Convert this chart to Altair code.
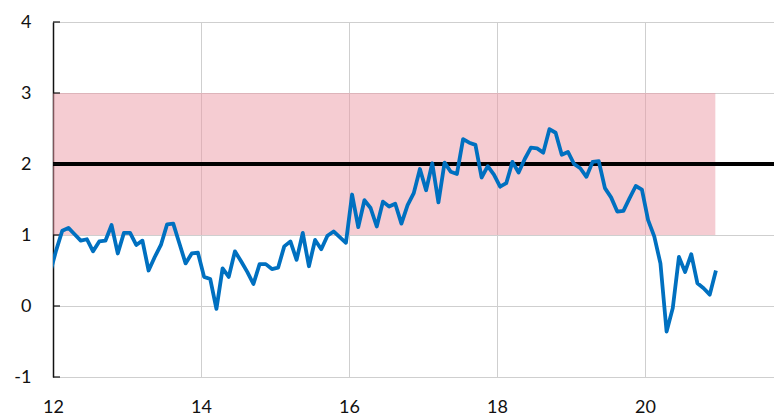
import altair as alt
import pandas as pd

# Monthly values, Dec 2011 .. Dec 2020 (month index -1 .. 107 from Jan 2012)
first_month_index = -1
inflation = [
    0.46,
    0.78, 1.06, 1.10, 1.01, 0.92, 0.94, 0.77, 0.91, 0.92, 1.14, 0.74, 1.03,
    1.03, 0.86, 0.92, 0.50, 0.69, 0.86, 1.15, 1.16, 0.88, 0.60, 0.74, 0.75,
    0.41, 0.38, -0.04, 0.53, 0.41, 0.77, 0.63, 0.48, 0.31, 0.59, 0.59, 0.52,
    0.54, 0.84, 0.91, 0.65, 1.03, 0.56, 0.93, 0.80, 0.99, 1.05, 0.97, 0.89,
    1.57, 1.11, 1.49, 1.38, 1.12, 1.47, 1.40, 1.44, 1.16, 1.42, 1.59, 1.93,
    1.63, 2.01, 1.46, 2.02, 1.89, 1.86, 2.35, 2.30, 2.27, 1.81, 1.97, 1.85,
    1.68, 1.73, 2.03, 1.88, 2.07, 2.23, 2.22, 2.16, 2.49, 2.44, 2.13, 2.17,
    2.00, 1.94, 1.82, 2.03, 2.04, 1.66, 1.53, 1.33, 1.34, 1.52, 1.69, 1.64,
    1.21, 0.98, 0.60, -0.36, -0.03, 0.69, 0.48, 0.73, 0.32, 0.25, 0.16, 0.50,
]
x_ticks = [12, 14, 16, 18, 20]
y_ticks = [-1, 0, 1, 2, 3, 4]
x_domain = [12, 21.743]
y_domain = [-1, 4]
band_x = [12, 20.95]
band_y = [1, 3]
target = [2]

years = [12 + (first_month_index + k + 0.5) / 12 for k in range(len(inflation))]
line_df = pd.DataFrame({"x": years, "y": inflation})
band_df = pd.DataFrame({"x1": [band_x[0]], "x2": [band_x[1]], "y1": [band_y[0]], "y2": [band_y[1]]})
target_df = pd.DataFrame({"y": target})
ticks_df = pd.DataFrame({"y": y_ticks})

FONT = "Lato"
xscale = alt.Scale(domain=x_domain, nice=False, zero=False)
yscale = alt.Scale(domain=y_domain, nice=False, zero=False)

xaxis = alt.Axis(values=x_ticks, format="d", grid=True, gridColor="#cfcfcf", gridWidth=1,
                 domain=False, ticks=False, labelPadding=21, labelFontSize=18,
                 labelFlush=False, labelOverlap=False,
                 labelFont=FONT, labelColor="#111111", title=None)
yaxis = alt.Axis(values=y_ticks, format="d", grid=True, gridColor="#cfcfcf", gridWidth=1,
                 domain=True, domainColor="#111111", domainWidth=1.5, ticks=False,
                 labelPadding=22, labelFontSize=18, labelFont=FONT, labelColor="#111111",
                 labelFlush=False,
                 labelExpr="datum.value < 0 ? '-' + abs(datum.value) : datum.label",
                 title=None)

band = alt.Chart(band_df).mark_rect(color="#eb9aa5", opacity=0.5).encode(
    x=alt.X("x1:Q", scale=xscale, axis=xaxis),
    x2="x2:Q",
    y=alt.Y("y1:Q", scale=yscale, axis=yaxis),
    y2="y2:Q",
)

tgt = alt.Chart(target_df).mark_rule(color="black", strokeWidth=4).encode(
    y=alt.Y("y:Q", scale=yscale)
)

ticks = alt.Chart(ticks_df).mark_rule(color="#111111", strokeWidth=1.2).encode(
    y=alt.Y("y:Q", scale=yscale),
    x=alt.value(0),
    x2=alt.value(7),
)

line = alt.Chart(line_df).mark_line(color="#0070c0", strokeWidth=3.8, clip=True,
                                    strokeJoin="round").encode(
    x=alt.X("x:Q", scale=xscale),
    y=alt.Y("y:Q", scale=yscale),
)

chart = alt.layer(band, tgt, ticks, line).properties(
    width=721, height=355,
    autosize=alt.AutoSizeParams(type="none"),
    padding={"left": 45, "top": 14, "right": 0, "bottom": 40},
).configure_view(stroke=None)

chart.save("out.html", embed_options={"renderer": "svg", "actions": False})
